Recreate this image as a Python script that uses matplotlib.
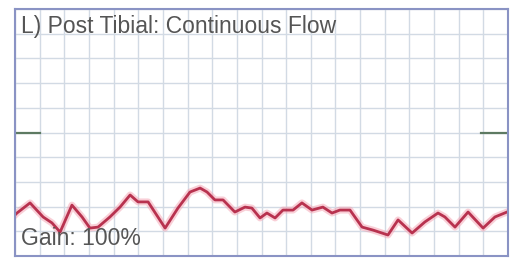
import numpy as np
import matplotlib.pyplot as plt

# traço: tempo (divisões) e amplitude (divisões, 0 = centro)
tempo = [0.0, 0.08, 0.61, 1.14, 1.50, 1.83, 2.31, 2.72, 3.04, 3.37, 3.85, 4.26, 4.67,
         4.99, 5.40, 6.09, 6.61, 7.10, 7.51, 7.79, 8.11, 8.44, 8.92, 9.33, 9.61,
         9.94, 10.22, 10.55, 10.87, 11.28, 11.64, 12.05, 12.49, 12.86, 13.18,
         13.59, 14.08, 14.52, 15.13, 15.54, 16.11, 16.63, 17.16, 17.44, 17.85,
         18.38, 18.99, 19.47, 19.96]
amplitude = [-3.34, -3.26, -2.85, -3.42, -3.66, -4.03, -2.94, -3.42, -3.87, -3.83,
             -3.42, -3.02, -2.53, -2.81, -2.81, -3.87, -3.06, -2.41, -2.25, -2.41,
             -2.73, -2.73, -3.22, -3.02, -3.06, -3.46, -3.26, -3.46, -3.14, -3.14,
             -2.85, -3.14, -3.02, -3.26, -3.14, -3.14, -3.83, -3.95, -4.15, -3.54,
             -4.07, -3.62, -3.26, -3.42, -3.83, -3.22, -3.87, -3.42, -3.22]

titulo = "L) Post Tibial: Continuous Flow"
ganho = "Gain: 100%"

fig = plt.figure(figsize=(5.19, 2.60), dpi=100)
ax = fig.add_axes([15 / 519, 4 / 260, 493 / 519, 247 / 260])

ax.set_xlim(0, 20)
ax.set_ylim(-5, 5)
ax.set_xticks(np.arange(0, 21, 1))
ax.set_yticks(np.arange(-5, 6, 1))
ax.grid(True, color="#d2dae4", lw=1.0)
ax.tick_params(length=0, labelbottom=False, labelleft=False)
for lado in ax.spines.values():
    lado.set_color("#8a93c4")
    lado.set_linewidth(1.5)

# marcas de linha de base nas bordas
ax.plot([0, 1.0], [0, 0], color="#5d7a62", lw=1.6)
ax.plot([18.9, 20], [0, 0], color="#5d7a62", lw=1.6)

ax.plot(tempo, amplitude, color="#f4a0b0", lw=5, alpha=0.5, solid_joinstyle="round")
ax.plot(tempo, amplitude, color="#b8324f", lw=2, solid_joinstyle="round")

fonte = dict(family=["Liberation Sans", "DejaVu Sans"], color="#555555", fontsize=16.5)
ax.text(0.012, 0.975, titulo, transform=ax.transAxes, va="top", ha="left", **fonte)
ax.text(0.012, 0.025, ganho, transform=ax.transAxes, va="bottom", ha="left", **fonte)

fig.savefig("out.png", dpi=100)
